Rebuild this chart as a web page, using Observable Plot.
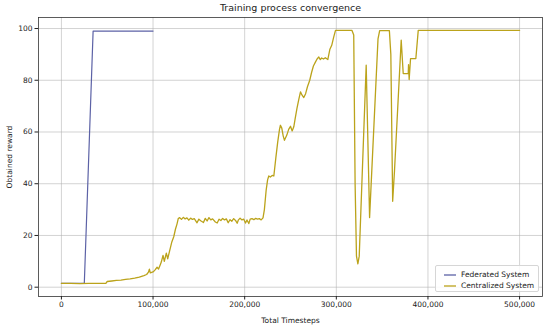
<!DOCTYPE html>
<html><head><meta charset="utf-8">
<script src="https://cdn.jsdelivr.net/npm/d3@7"></script>
<script src="https://cdn.jsdelivr.net/npm/@observablehq/plot@0.6"></script>
<style>
body{margin:0;background:#fff;font-family:"DejaVu Sans",sans-serif;}
#wrap{position:relative;width:550px;height:326px;}
#legend{position:absolute;left:435px;top:265px;width:104px;height:27px;border:1px solid #d6d6d6;border-radius:2px;background:rgba(255,255,255,0.85);font-size:7.5px;color:#222;box-sizing:border-box;}
.item{position:absolute;left:0;height:10px;width:100%;}
.item svg{position:absolute;left:8px;top:0;}
.item span{position:absolute;left:25px;top:0;line-height:10px;white-space:nowrap;}
</style>
</head><body>
<div id="wrap"></div>
<script>
const title = "Training process convergence";
const xLabel = "Total Timesteps";
const yLabel = "Obtained reward";
const xTicks = [0, 100000, 200000, 300000, 400000, 500000];
const yTicks = [0, 20, 40, 60, 80, 100];

const seriesNames = ["Federated System", "Centralized System"];
const seriesColors = ["#5c62a6", "#bba31b"];

const fedX = [0, 25000, 34600, 100000];
const fedY = [1.5, 1.5, 99.0, 99.0];

const cenX = [0,10000,20000,30000,40000,48500,50000,55000,60000,65000,70000,75000,80000,85000,90000,93000,95000,96000,97000,100000,
102000,104400,106000,108000,109000,110900,112300,114500,116000,118900,120500,122600,124500,126200,127500,129100,
131000,133000,135000,137000,139000,141000,143000,145000,148000,150000,152000,155000,157000,159000,161000,163000,165000,168000,170000,
172000,174000,176000,178000,180000,182000,184000,186000,188000,190000,191800,193000,195000,197000,199000,200900,202500,204500,206000,
208000,210000,212000,214000,216000,218000,220000,221500,223400,225000,226300,228000,230000,231800,234000,236000,238000,239000,240500,
242000,243400,246000,248000,250000,251800,253600,255000,257000,259000,260900,262500,264500,266500,268500,271000,273000,275000,277300,
279000,280900,282500,284000,286000,288000,290700,293000,295000,297000,299100,310000,317000,319000,320500,322000,323500,325000,
332600,336300,345500,347300,357900,359500,361500,363500,370800,373000,378500,378800,379500,381000,386800,389400,500000];
const cenY = [1.5,1.5,1.4,1.5,1.5,1.5,2.2,2.4,2.6,2.7,3.0,3.2,3.5,3.9,4.5,4.9,5.8,7.0,5.5,5.9,
6.6,7.7,7.0,8.8,9.7,12.3,10.0,13.2,11.0,15.2,17.5,19.5,22.5,24.5,26.5,26.9,
26.2,27.0,26.4,26.8,25.9,26.7,26.2,26.5,24.9,26.3,25.7,25.0,26.6,25.6,26.9,26.0,26.4,25.2,24.8,
26.3,25.8,26.6,26.0,26.4,24.9,26.1,25.5,26.5,25.8,24.7,25.9,26.7,26.0,26.3,24.8,26.0,24.6,26.3,
26.5,26.1,26.6,26.3,26.5,26.0,26.8,30.0,37.4,41.5,43.0,42.6,43.2,43.0,50.0,56.0,61.0,62.6,61.5,
58.5,56.8,58.8,61.0,62.2,60.4,62.0,65.0,69.0,72.5,75.5,74.3,73.3,74.8,77.5,80.0,83.0,85.5,87.1,
88.2,89.0,88.0,88.6,88.2,88.7,88.0,92.0,93.5,96.5,99.3,99.3,99.3,97.5,40.0,12.0,9.0,12.0,
85.8,26.9,96.0,99.2,99.2,90.0,33.2,45.0,95.5,82.6,82.6,86.0,80.3,88.4,88.4,99.3,99.3];

const fedData = fedX.map((x, i) => ({x, y: fedY[i]}));
const cenData = cenX.map((x, i) => ({x, y: cenY[i]}));

const plot = Plot.plot({
  width: 550, height: 326,
  marginLeft: 38, marginRight: 8, marginTop: 17, marginBottom: 30,
  style: {fontFamily: "DejaVu Sans", fontSize: "7.5px", color: "#222", background: "white", overflow: "visible"},
  x: {domain: [-25000, 525000]},
  y: {domain: [-3.6, 104.26]},
  marks: [
    Plot.gridX(xTicks, {stroke: "#b0b0b0", strokeOpacity: 0.7, strokeWidth: 0.8}),
    Plot.gridY(yTicks, {stroke: "#b0b0b0", strokeOpacity: 0.7, strokeWidth: 0.8}),
    Plot.line(fedData, {x: "x", y: "y", stroke: seriesColors[0], strokeWidth: 1.2}),
    Plot.line(cenData, {x: "x", y: "y", stroke: seriesColors[1], strokeWidth: 1.3}),
    Plot.frame({stroke: "#333", strokeWidth: 0.8}),
    Plot.axisX(xTicks, {tickFormat: d3.format(","), tickSize: 3.5, tickPadding: 2, label: xLabel, labelAnchor: "center", labelOffset: 26, labelArrow: "none"}),
    Plot.axisY(yTicks, {tickSize: 3.5, tickPadding: 2.5, label: yLabel, labelAnchor: "center", labelOffset: 32, labelArrow: "none"}),
    Plot.text([title], {frameAnchor: "top", dy: -7, lineAnchor: "bottom", fontSize: 9.5, fill: "#222"})
  ]
});
const wrap = document.getElementById("wrap");
wrap.appendChild(plot);

const legend = document.createElement("div");
legend.id = "legend";
seriesNames.forEach((name, i) => {
  const it = document.createElement("div");
  it.className = "item";
  it.style.top = (4 + i * 11) + "px";
  it.innerHTML = `<svg width="12" height="10"><line x1="0" x2="12" y1="5" y2="5" stroke="${seriesColors[i]}" stroke-width="1.3"/></svg><span>${name}</span>`;
  legend.appendChild(it);
});
wrap.appendChild(legend);
</script>
</body></html>
